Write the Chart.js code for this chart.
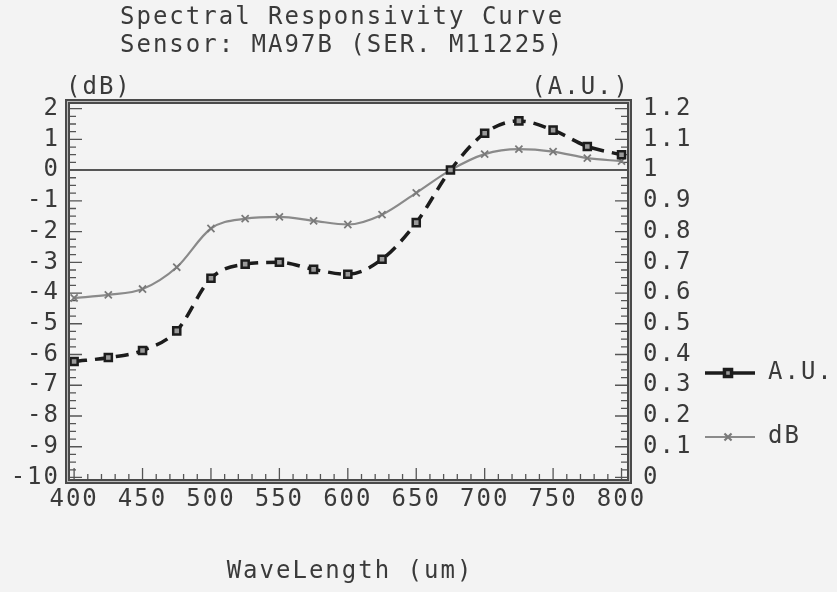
<!DOCTYPE html>
<html>
<head>
<meta charset="utf-8">
<script src="https://cdn.jsdelivr.net/npm/chart.js@4"></script>
<style>
  html, body { margin: 0; padding: 0; background: #f3f3f3; }
  #wrap { width: 837px; height: 592px; }
</style>
</head>
<body>
<div id="wrap"><canvas id="myChart" width="837" height="592"></canvas></div>
<script>
// values
const wavelengths = [400, 425, 450, 475, 500, 525, 550, 575, 600, 625, 650, 675, 700, 725, 750, 775, 800];
const dbValues = [-4.16, -4.06, -3.87, -3.16, -1.9, -1.58, -1.52, -1.65, -1.77, -1.45, -0.74, 0, 0.52, 0.68, 0.6, 0.39, 0.29];
const auValues = [0.377, 0.39, 0.413, 0.477, 0.648, 0.694, 0.7, 0.677, 0.661, 0.71, 0.829, 1.0, 1.12, 1.16, 1.13, 1.077, 1.05];

const xTicks = [400, 450, 500, 550, 600, 650, 700, 750, 800];
const dbTicks = [-10, -9, -8, -7, -6, -5, -4, -3, -2, -1, 0, 1, 2];
const auTicks = [0, 0.1, 0.2, 0.3, 0.4, 0.5, 0.6, 0.7, 0.8, 0.9, 1, 1.1, 1.2];

const titleLines = ["Spectral Responsivity Curve", "Sensor: MA97B (SER. M11225)"];
const xTitle = "WaveLength (um)";

const FONT = "DejaVu Sans Mono";
const INK = "#3a3a3a";

function pts(ys) {
  return wavelengths.map((w, i) => ({ x: w, y: ys[i] }));
}

// frame, inner ticks, zero line, titles and legend
const plotterPlugin = {
  id: "plotter",
  beforeLayout(chart) {
    chart.ctx.letterSpacing = "2px";
  },
  beforeDraw(chart) {
    chart.ctx.letterSpacing = "2px";
  },
  beforeDatasetsDraw(chart) {
    const ctx = chart.ctx;
    const a = chart.chartArea;
    const yL = chart.scales.yL;
    const xs = chart.scales.x;
    ctx.save();
    // zero line
    ctx.strokeStyle = "#222";
    ctx.lineWidth = 1.5;
    const y0 = yL.getPixelForValue(0);
    ctx.beginPath();
    ctx.moveTo(a.left, y0);
    ctx.lineTo(a.right, y0);
    ctx.stroke();

    // inner ticks
    ctx.strokeStyle = "#555";
    ctx.lineWidth = 1.3;
    for (let v = -10; v <= 2.001; v += 0.25) {
      const y = yL.getPixelForValue(v);
      const major = Math.abs(v - Math.round(v)) < 0.01;
      const len = major ? 12 : 6;
      ctx.beginPath();
      ctx.moveTo(a.left, y);
      ctx.lineTo(a.left + len, y);
      ctx.moveTo(a.right, y);
      ctx.lineTo(a.right - len, y);
      ctx.stroke();
    }
    for (let w = 400; w <= 800; w += 10) {
      const x = xs.getPixelForValue(w);
      const len = w % 50 === 0 ? 11 : 5;
      ctx.beginPath();
      ctx.moveTo(x, a.bottom);
      ctx.lineTo(x, a.bottom - len);
      ctx.stroke();
    }
    ctx.restore();
  },
  afterDraw(chart) {
    const ctx = chart.ctx;
    const a = chart.chartArea;
    ctx.save();
    // thick frame
    ctx.strokeStyle = "#4a4a4a";
    ctx.lineWidth = 5;
    ctx.strokeRect(a.left - 2.5, a.top - 2.5, a.right - a.left + 5, a.bottom - a.top + 5);
    ctx.strokeStyle = "#bbb";
    ctx.lineWidth = 1;
    ctx.strokeRect(a.left - 2.5, a.top - 2.5, a.right - a.left + 5, a.bottom - a.top + 5);

    ctx.letterSpacing = "2px";
    ctx.fillStyle = INK;
    ctx.font = "24px '" + FONT + "'";
    ctx.textBaseline = "middle";
    ctx.textAlign = "left";
    ctx.fillText(titleLines[0], 120, 18);
    ctx.fillText(titleLines[1], 120, 46);
    ctx.fillText("(dB)", 66, 88);
    ctx.textAlign = "right";
    ctx.fillText("(A.U.)", 630, 88);
    ctx.textAlign = "center";
    ctx.fillText(xTitle, 350, 572);

    // legend
    const rows = [{ ds: chart.data.datasets[0], y: 373 }, { ds: chart.data.datasets[1], y: 437 }];
    rows.forEach((r) => {
      ctx.save();
      ctx.strokeStyle = r.ds.borderColor;
      ctx.lineWidth = r.ds.borderWidth;
      ctx.beginPath();
      ctx.moveTo(705, r.y);
      ctx.lineTo(755, r.y);
      ctx.stroke();
      ctx.strokeStyle = r.ds.pointBorderColor;
      ctx.fillStyle = r.ds.pointBackgroundColor || r.ds.pointBorderColor;
      Chart.helpers.drawPoint(ctx, {
        pointStyle: r.ds.pointStyle,
        radius: r.ds.pointRadius,
        borderWidth: r.ds.pointBorderWidth,
        rotation: 0
      }, 728, r.y);
      ctx.restore();
      ctx.fillStyle = INK;
      ctx.textAlign = "left";
      ctx.fillText(r.ds.label, 768, r.y);
    });
    ctx.restore();
  }
};

function makeChart() {
  const ctx = document.getElementById("myChart");
  const tickFont = { family: FONT, size: 24 };

  new Chart(ctx, {
    type: "line",
    data: {
      datasets: [
        {
          label: "A.U.",
          data: pts(auValues),
          yAxisID: "yR",
          borderColor: "#1c1c1c",
          borderWidth: 3.5,
          borderDash: [13, 8],
          cubicInterpolationMode: "monotone",
          pointStyle: "rect",
          pointRadius: 5,
          pointBorderWidth: 2.5,
          pointBorderColor: "#1c1c1c",
          pointBackgroundColor: "#9a9a9a",
          fill: false
        },
        {
          label: "dB",
          data: pts(dbValues),
          yAxisID: "yL",
          borderColor: "#8a8a8a",
          borderWidth: 2.2,
          cubicInterpolationMode: "monotone",
          pointStyle: "crossRot",
          pointRadius: 5,
          pointBorderWidth: 1.8,
          pointBorderColor: "#7a7a7a",
          fill: false
        }
      ]
    },
    options: {
      responsive: false,
      animation: false,
      layout: { padding: { top: 104, left: 0, right: 0, bottom: 0 } },
      plugins: {
        legend: { display: false },
        title: { display: false },
        tooltip: { enabled: false }
      },
      scales: {
        x: {
          type: "linear",
          min: 397,
          max: 804,
          grid: { display: false, drawTicks: false },
          border: { display: false },
          afterBuildTicks: (s) => { s.ticks = xTicks.map((v) => ({ value: v })); },
          afterFit: (s) => { s.height = 113; },
          ticks: { font: tickFont, color: INK, padding: 6, maxRotation: 0, autoSkip: false }
        },
        yL: {
          position: "left",
          min: -10.05,
          max: 2.15,
          grid: { display: false, drawTicks: false },
          border: { display: false },
          afterBuildTicks: (s) => { s.ticks = dbTicks.map((v) => ({ value: v })); },
          afterFit: (s) => { s.width = 70; },
          ticks: { font: tickFont, color: INK, padding: 10, autoSkip: false }
        },
        yR: {
          position: "right",
          min: -0.005,
          max: 1.215,
          grid: { display: false, drawTicks: false },
          border: { display: false },
          afterBuildTicks: (s) => { s.ticks = auTicks.map((v) => ({ value: v })); },
          afterFit: (s) => { s.width = 210; },
          ticks: {
            font: tickFont,
            color: INK,
            padding: 16,
            autoSkip: false,
            callback: (v) => (Number.isInteger(v) ? String(v) : v.toFixed(1))
          }
        }
      }
    },
    plugins: [plotterPlugin]
  });
}

makeChart();
</script>
</body>
</html>
